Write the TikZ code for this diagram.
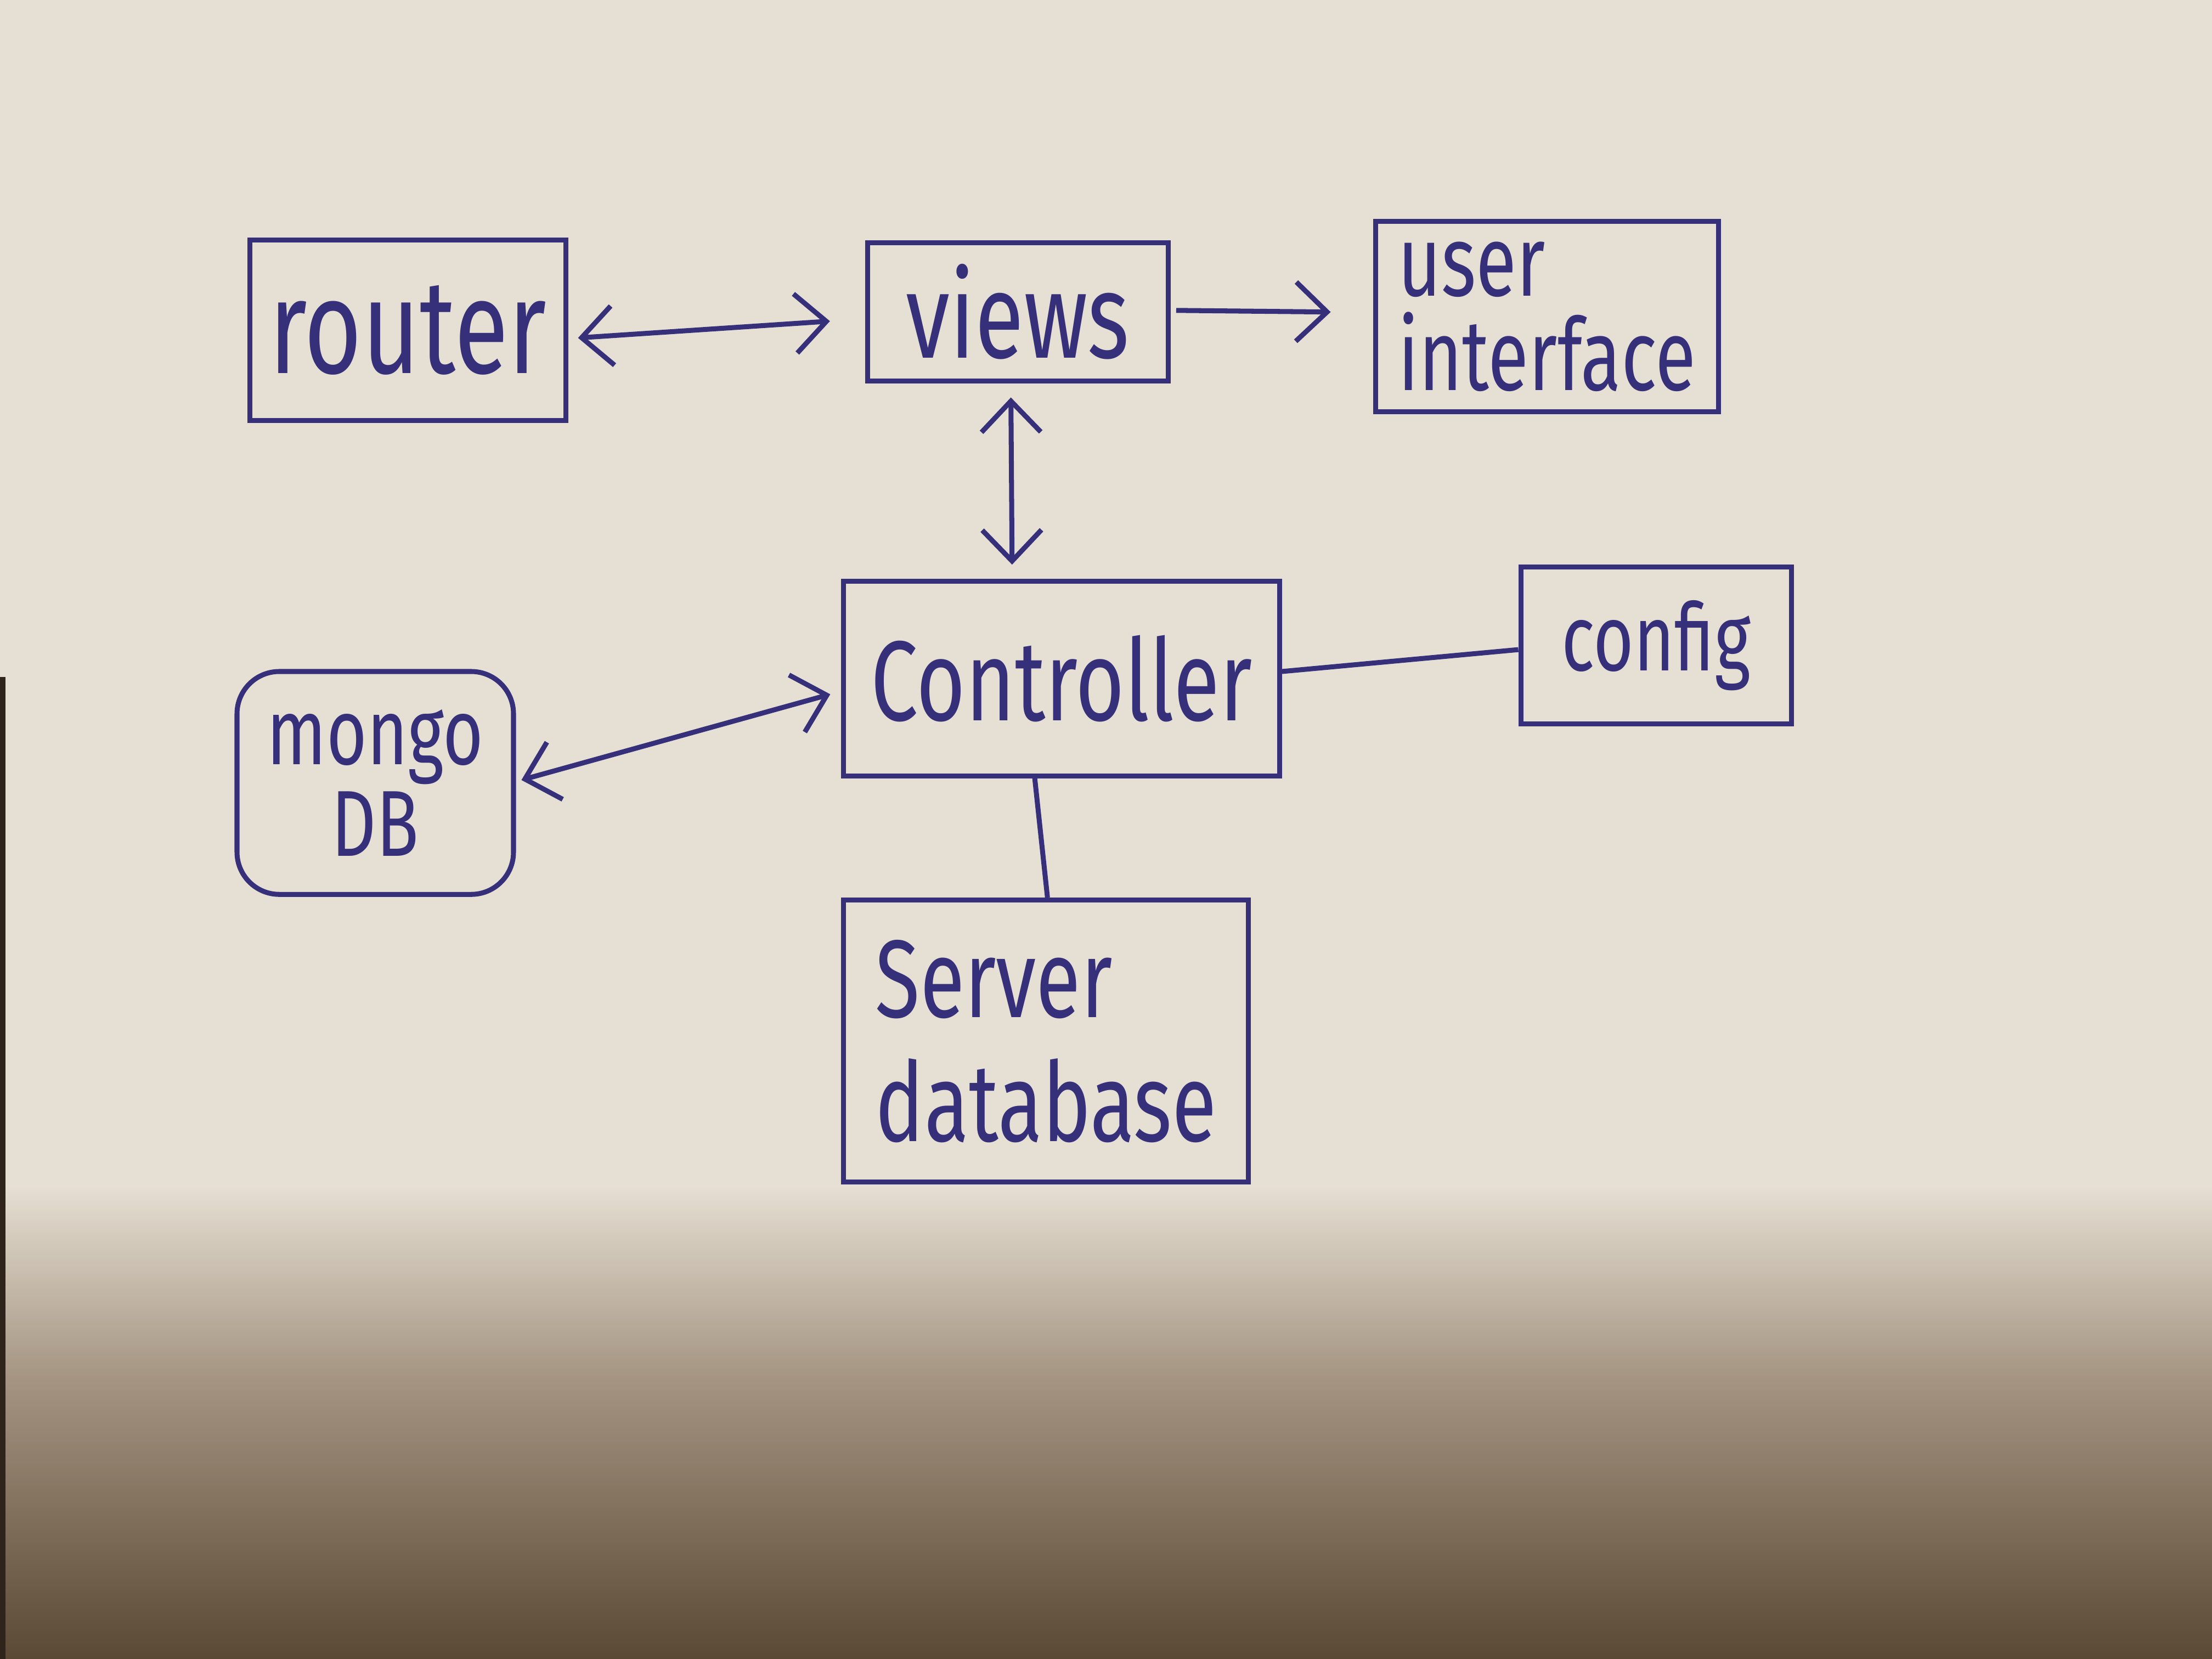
\documentclass[tikz,border=0pt]{standalone}
\usepackage{fontspec}
\setmainfont{Fira Sans}
\usetikzlibrary{arrows.meta}
\definecolor{ink}{HTML}{36307A}
\definecolor{paper}{HTML}{E6DFD3}
\definecolor{shadowmid}{HTML}{A39380}
\definecolor{shadowdark}{HTML}{5A4935}
\definecolor{edge}{HTML}{2E241B}
\newcommand{\hw}[1]{\scalebox{1}[1.35]{#1}}
\newcommand{\tightlines}{\lineskiplimit -100pt\relax\lineskip 0pt\relax}
\tikzset{
  box/.style={draw=ink, line width=1pt, inner sep=0pt, text=ink, align=center},
  boxl/.style={box, align=left},
  link/.style={draw=ink, line width=1pt},
  barb/.tip={Straight Barb[length=2.2mm,width=4.2mm]}
}
\begin{document}
\begin{tikzpicture}
\useasboundingbox (0,0) rectangle (15.68,-11.76);
% paper and shadow
\fill[paper] (0,0) rectangle (15.68,-11.76);
\shade[top color=paper, bottom color=shadowmid] (0,-8.4) rectangle (15.68,-9.8);
\shade[top color=shadowmid, bottom color=shadowdark] (0,-9.8) rectangle (15.68,-11.76);
\fill[edge] (0,-4.8) rectangle (0.04,-11.76);

% nodes
\node[box, minimum width=2.24cm, minimum height=1.28cm] (router) at (2.89,-2.34)
  {\hw{\fontsize{20}{22}\selectfont router}};
\node[box, minimum width=2.13cm, minimum height=0.98cm] (views) at (7.215,-2.21)
  {\hw{\fontsize{18}{20}\selectfont views}};
\node[boxl, minimum width=2.43cm, minimum height=1.35cm,
      font={\fontsize{15}{19}\selectfont\tightlines}] (ui) at (10.965,-2.245)
  {\hw{user}\\\hw{interface}};
\node[box, minimum width=3.09cm, minimum height=1.38cm] (ctrl) at (7.525,-4.81)
  {\hw{\fontsize{17}{19}\selectfont Controller}};
\node[box, minimum width=1.92cm, minimum height=1.11cm] (config) at (11.74,-4.575)
  {\hw{\fontsize{14}{16}\selectfont config}};
\node[box, rounded corners=3mm, minimum width=1.96cm, minimum height=1.58cm,
      font={\fontsize{14}{18.5}\selectfont\tightlines}] (mongo) at (2.66,-5.55)
  {\hw{mongo}\\\hw{DB}};
\node[boxl, minimum width=2.87cm, minimum height=2.0cm,
      font={\fontsize{16.5}{25}\selectfont\tightlines}] (server) at (7.415,-7.38)
  {\hw{Server}\\\hw{database}};

% connectors
\draw[link, barb-barb, shorten >=2.5mm, shorten <=0.7mm]
  ([yshift=-0.6mm]router.east) -- ([yshift=-0.5mm]views.west);
\draw[link, -barb, shorten >=3mm, shorten <=0.4mm]
  ([yshift=0.1mm]views.east) -- ([yshift=0.3mm]ui.west);
\draw[link, barb-barb, shorten >=1mm, shorten <=1mm]
  ([xshift=-0.5mm]views.south) -- ([xshift=-3.5mm]ctrl.north);
\draw[link, barb-barb, shorten >=0.8mm, shorten <=0.4mm]
  ([yshift=0.1mm]mongo.east) -- ([yshift=-0.9mm]ctrl.west);
\draw[link] ([yshift=0.5mm]ctrl.east) -- ([yshift=-0.3mm]config.west);
\draw[link] ([xshift=-1.9mm]ctrl.south) -- ([xshift=0.1mm]server.north);
\end{tikzpicture}
\end{document}
